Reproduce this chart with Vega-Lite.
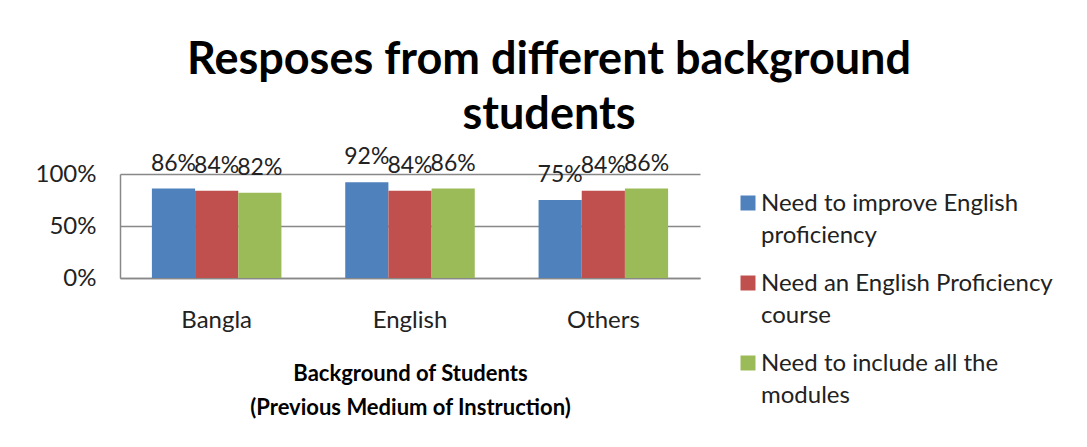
{
  "$schema": "https://vega.github.io/schema/vega-lite/v6.json",
  "autosize": "none",
  "width": 580,
  "height": 104,
  "padding": {"left": 120, "top": 174, "right": 387, "bottom": 169},
  "background": "white",
  "title": {
    "text": ["Resposes from different background", "students"],
    "font": "Lato",
    "fontSize": 45,
    "fontWeight": "bold",
    "color": "#000000",
    "anchor": "middle",
    "dx": 139,
    "offset": 8,
    "lineHeight": 55
  },
  "data": {
    "values": [
      {"background": "Bangla", "response": "Need to improve English proficiency", "value": 0.86},
      {"background": "Bangla", "response": "Need an English Proficiency course", "value": 0.84},
      {"background": "Bangla", "response": "Need to include all the modules", "value": 0.82},
      {"background": "English", "response": "Need to improve English proficiency", "value": 0.92},
      {"background": "English", "response": "Need an English Proficiency course", "value": 0.84},
      {"background": "English", "response": "Need to include all the modules", "value": 0.86},
      {"background": "Others", "response": "Need to improve English proficiency", "value": 0.75},
      {"background": "Others", "response": "Need an English Proficiency course", "value": 0.84},
      {"background": "Others", "response": "Need to include all the modules", "value": 0.86}
    ]
  },
  "encoding": {
    "x": {
      "field": "background",
      "type": "nominal",
      "sort": ["Bangla", "English", "Others"],
      "scale": {"paddingInner": 0.33, "paddingOuter": 0.165},
      "axis": {
        "title": ["Background of Students", "(Previous Medium of Instruction)"],
        "titleFont": "Lato",
        "titleFontSize": 22,
        "titleFontWeight": "bold",
        "titleColor": "#000000",
        "titlePadding": 31,
        "titleLineHeight": 34,
        "labelFont": "Lato",
        "labelFontSize": 24,
        "labelColor": "#222222",
        "labelAngle": 0,
        "labelPadding": 30,
        "ticks": false,
        "domainColor": "#888888",
        "domainWidth": 1.5
      }
    },
    "xOffset": {
      "field": "response",
      "type": "nominal",
      "sort": ["Need to improve English proficiency", "Need an English Proficiency course", "Need to include all the modules"]
    },
    "y": {
      "field": "value",
      "type": "quantitative",
      "scale": {"domain": [0, 1]},
      "axis": {
        "title": null,
        "values": [0, 0.5, 1],
        "format": ".0%",
        "labelFont": "Lato",
        "labelFontSize": 24,
        "labelColor": "#222222",
        "labelPadding": 24,
        "ticks": false,
        "domainColor": "#888888",
        "domainWidth": 1.5,
        "gridColor": "#888888",
        "gridWidth": 1.5
      }
    }
  },
  "layer": [
    {
      "mark": {"type": "bar"},
      "encoding": {
        "color": {
          "field": "response",
          "type": "nominal",
          "sort": ["Need to improve English proficiency", "Need an English Proficiency course", "Need to include all the modules"],
          "scale": {
            "domain": ["Need to improve English proficiency", "Need an English Proficiency course", "Need to include all the modules"],
            "range": ["#4F81BD", "#C0504D", "#9BBB59"]
          },
          "legend": {
            "title": null,
            "orient": "none",
            "legendX": 616,
            "legendY": 17,
            "symbolType": "square",
            "symbolSize": 225,
            "symbolStrokeWidth": 0,
            "labelFont": "Lato",
            "labelFontSize": 24,
            "labelColor": "#222222",
            "labelLimit": 400,
            "labelOffset": 1,
            "rowPadding": 23,
            "labelBaseline": "alphabetic",
            "encode": {"labels": {"update": {"dy": {"value": 8}}}},
            "labelExpr": "datum.label == 'Need to improve English proficiency' ? ['Need to improve English', 'proficiency'] : datum.label == 'Need an English Proficiency course' ? ['Need an English Proficiency', 'course'] : ['Need to include all the', 'modules']"
          }
        }
      }
    },
    {
      "mark": {"type": "text", "baseline": "alphabetic", "dy": -18, "font": "Lato", "fontSize": 23, "color": "#222222"},
      "encoding": {
        "text": {"field": "value", "type": "quantitative", "format": ".0%"}
      }
    }
  ],
  "config": {
    "view": {"stroke": null},
    "style": {"guide-label": {"lineHeight": 32}}
  }
}
